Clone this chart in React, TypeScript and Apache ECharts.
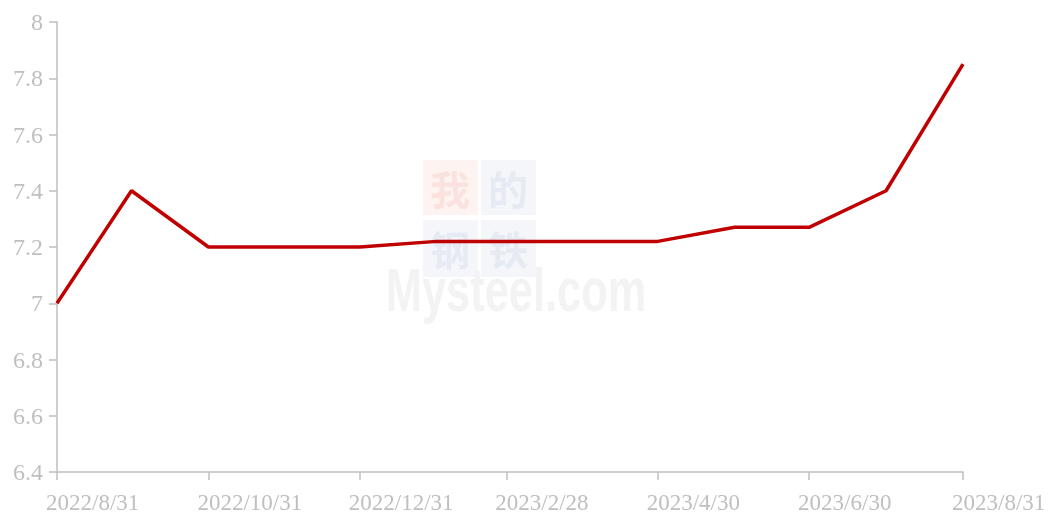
import React, { useEffect, useRef } from "react";
import * as echarts from "echarts";

const dates = [
  "2022/8/31", "2022/9/30", "2022/10/31", "2022/11/30", "2022/12/31",
  "2023/1/31", "2023/2/28", "2023/3/31", "2023/4/30", "2023/5/31",
  "2023/6/30", "2023/7/31", "2023/8/31",
];
const values = [7.0, 7.4, 7.2, 7.2, 7.2, 7.22, 7.22, 7.22, 7.22, 7.27, 7.27, 7.4, 7.85];
const tickDates = ["2022/8/31", "2022/10/31", "2022/12/31", "2023/2/28", "2023/4/30", "2023/6/30", "2023/8/31"];

const toTs = (s: string) => {
  const [y, m, d] = s.split("/").map(Number);
  return new Date(y, m - 1, d).getTime();
};
const fmt = (v: number) => {
  const d = new Date(v);
  return `${d.getFullYear()}/${d.getMonth() + 1}/${d.getDate()}`;
};

const FONT = "'Liberation Serif', 'Times New Roman', serif";
const GRAY = "#bfbfbf";
const CJK = "bold 40px 'Noto Sans CJK SC'";

export default function App() {
  const ref = useRef<HTMLDivElement>(null);
  useEffect(() => {
    if (!ref.current) return;
    const chart = echarts.init(ref.current, null, { renderer: "svg" });
    const tickTs = tickDates.map(toTs);
    chart.setOption({
      animation: false,
      grid: { left: 57, right: 90, top: 22, bottom: 43, containLabel: false },
      graphic: [
        { type: "rect", z: -10, shape: { x: 423, y: 160, width: 55, height: 55 }, style: { fill: "#fdf3f1" } },
        { type: "rect", z: -10, shape: { x: 481, y: 160, width: 55, height: 55 }, style: { fill: "#f4f6fa" } },
        { type: "rect", z: -10, shape: { x: 423, y: 220, width: 55, height: 57 }, style: { fill: "#f4f6fa" } },
        { type: "rect", z: -10, shape: { x: 481, y: 220, width: 55, height: 57 }, style: { fill: "#f4f6fa" } },
        { type: "text", z: -9, x: 450, y: 188, style: { text: "我", fill: "#fae2de", font: CJK, align: "center", verticalAlign: "middle" } },
        { type: "text", z: -9, x: 508, y: 188, style: { text: "的", fill: "#e6eaf3", font: CJK, align: "center", verticalAlign: "middle" } },
        { type: "text", z: -9, x: 450, y: 248, style: { text: "钢", fill: "#e6eaf3", font: CJK, align: "center", verticalAlign: "middle" } },
        { type: "text", z: -9, x: 508, y: 248, style: { text: "铁", fill: "#e6eaf3", font: CJK, align: "center", verticalAlign: "middle" } },
        { type: "text", z: -8, x: 516, y: 290, scaleX: 0.7, style: { text: "Mysteel.com", fill: "#f3f3f3", font: "bold 62px 'Liberation Sans', sans-serif", align: "center", verticalAlign: "middle" } },
      ],
      xAxis: {
        type: "value",
        min: toTs(dates[0]),
        max: toTs(dates[dates.length - 1]),
        axisLine: { show: true, lineStyle: { color: GRAY, width: 1.5 } },
        axisTick: { show: true, length: 8, lineStyle: { color: GRAY, width: 1.5 }, customValues: tickTs },
        splitLine: { show: false },
        axisLabel: {
          customValues: tickTs,
          formatter: (v: number) => fmt(v),
          color: GRAY,
          fontFamily: FONT,
          fontSize: 23,
          align: "left",
          padding: [0, 0, 0, -11],
          margin: 19,
          showMinLabel: true,
          showMaxLabel: true,
        },
      },
      yAxis: {
        type: "value",
        min: 6.4,
        max: 8,
        interval: 0.2,
        axisLine: { show: true, lineStyle: { color: GRAY, width: 1.5 } },
        axisTick: { show: true, length: 8, lineStyle: { color: GRAY, width: 1.5 } },
        splitLine: { show: false },
        axisLabel: {
          color: GRAY,
          fontFamily: FONT,
          fontSize: 24,
          margin: 14,
          formatter: (v: number) => String(Math.round(v * 10) / 10),
        },
      },
      series: [
        {
          type: "line",
          data: dates.map((d, i) => [toTs(d), values[i]]),
          showSymbol: false,
          symbol: "none",
          lineStyle: { color: "#c00000", width: 3.5 },
          z: 5,
        },
      ],
    });
    return () => chart.dispose();
  }, []);
  return <div ref={ref} style={{ position: "fixed", left: 0, top: 0, width: 1053, height: 515 }} />;
}
